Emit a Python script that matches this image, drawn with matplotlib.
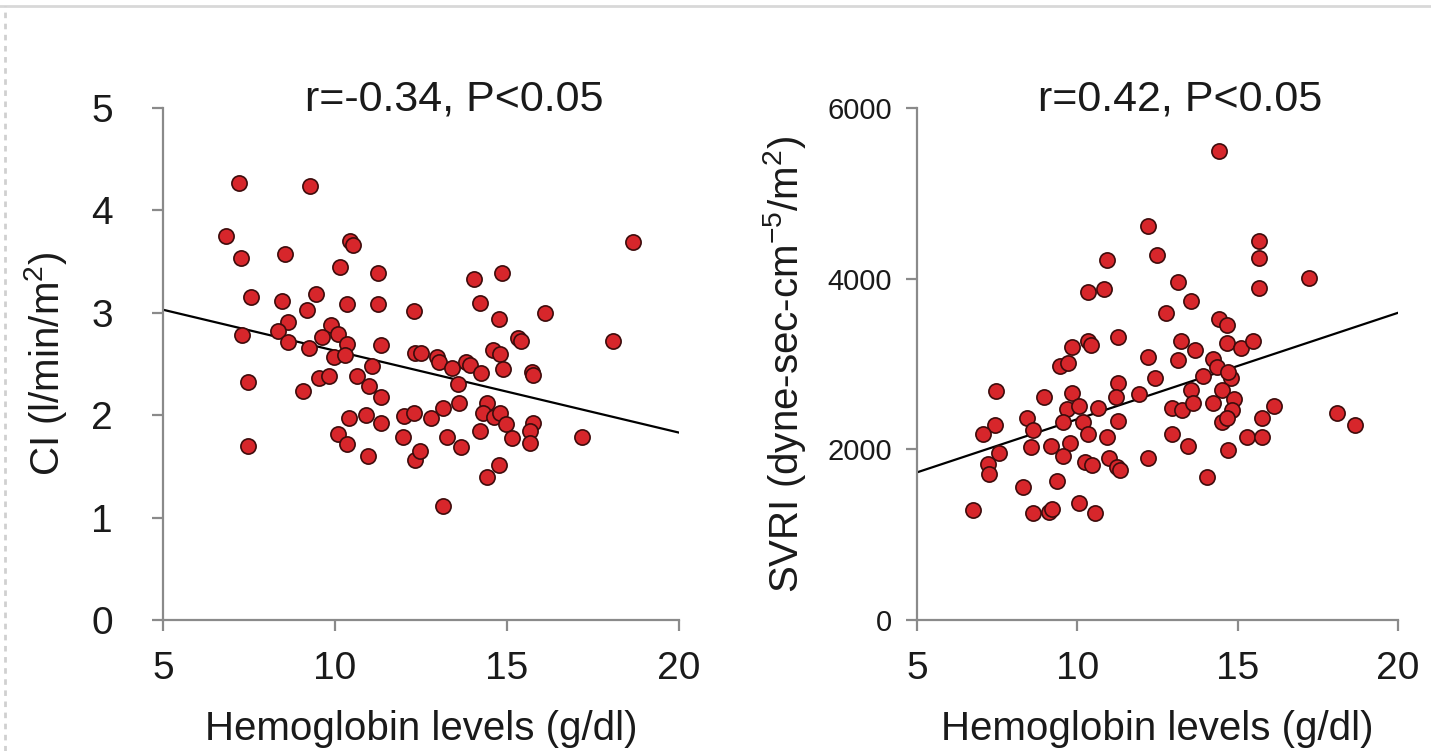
import numpy as np
import matplotlib
matplotlib.use("Agg")
import matplotlib.pyplot as plt
from matplotlib.lines import Line2D

plt.rcParams['font.family'] = ['Liberation Sans', 'DejaVu Sans']
plt.rcParams['mathtext.fontset'] = 'custom'
plt.rcParams['mathtext.rm'] = 'Liberation Sans'
plt.rcParams['mathtext.it'] = 'Liberation Sans'

# =========================================================
# DATA
# =========================================================

# left panel : CI vs hemoglobin
hb_ci = [7.21, 9.27, 6.83, 7.27, 8.55, 10.44, 10.52, 10.15, 11.25, 7.56,
         8.46, 9.45, 9.19, 10.35, 11.25, 12.30, 8.63, 9.88, 7.30, 8.34,
         9.62, 10.09, 8.63, 9.24, 10.35, 11.34, 9.97, 10.29, 11.08, 9.53,
         9.83, 10.64, 10.99, 11.34, 7.47, 9.07, 10.41, 10.90, 11.34, 12.01,
         12.30, 11.98, 10.09, 10.35, 10.96, 7.47, 12.33, 12.33, 18.66, 14.85,
         14.04, 14.22, 14.77, 16.10, 15.32, 15.41, 18.08, 12.50, 12.97, 13.02,
         13.40, 13.81, 13.92, 14.24, 14.59, 14.80, 14.88, 15.73, 15.76, 13.58,
         13.60, 14.42, 12.79, 13.14, 14.30, 14.62, 14.80, 14.97, 15.76, 15.67,
         15.67, 15.15, 14.22, 13.26, 13.66, 12.47, 14.77, 14.42, 13.14, 17.18]
ci = [4.27, 4.24, 3.75, 3.54, 3.57, 3.70, 3.66, 3.45, 3.39, 3.15,
      3.12, 3.18, 3.03, 3.09, 3.09, 3.02, 2.91, 2.88, 2.78, 2.82,
      2.76, 2.79, 2.71, 2.66, 2.70, 2.69, 2.57, 2.59, 2.48, 2.36,
      2.38, 2.38, 2.29, 2.18, 2.32, 2.24, 1.97, 2.00, 1.92, 1.99,
      2.02, 1.79, 1.82, 1.72, 1.60, 1.70, 1.56, 2.61, 3.69, 3.39,
      3.33, 3.10, 2.94, 3.00, 2.75, 2.72, 2.72, 2.61, 2.57, 2.52,
      2.46, 2.52, 2.49, 2.41, 2.64, 2.60, 2.45, 2.42, 2.39, 2.30,
      2.12, 2.12, 1.97, 2.07, 2.02, 1.98, 2.02, 1.91, 1.92, 1.85,
      1.73, 1.78, 1.85, 1.79, 1.69, 1.65, 1.51, 1.40, 1.11, 1.79]
ci_fit_x = [5, 20]
ci_fit_y = [3.03, 1.83]

# right panel : SVRI vs hemoglobin
hb_svri = [12.20, 12.48, 10.92, 10.33, 10.83, 11.27, 10.33, 10.43, 9.83, 9.46,
           9.71, 12.20, 7.46, 8.96, 9.83, 11.27, 11.21, 11.92, 12.42, 9.68,
           10.05, 8.43, 10.64, 7.43, 7.06, 8.62, 9.55, 10.18, 11.27, 10.33,
           10.92, 8.55, 9.18, 9.77, 9.55, 7.56, 10.24, 10.46, 10.99, 11.24,
           11.33, 7.21, 7.25, 12.20, 9.37, 8.31, 6.75, 8.62, 9.12, 9.21,
           10.05, 10.55, 14.42, 15.66, 15.66, 17.22, 15.66, 13.14, 13.54, 12.76,
           14.42, 14.67, 13.23, 13.67, 14.67, 15.10, 15.48, 13.14, 14.23, 14.35,
           13.92, 14.79, 14.70, 13.54, 14.51, 14.88, 12.95, 13.26, 13.61, 14.23,
           14.82, 14.51, 14.67, 16.13, 15.76, 12.95, 13.45, 15.29, 15.76, 14.70,
           14.04, 18.10, 18.66]
svri = [4612, 4282, 4224, 3847, 3882, 3318, 3271, 3224, 3200, 2976,
        3012, 3082, 2682, 2612, 2659, 2776, 2612, 2647, 2835, 2471,
        2506, 2365, 2482, 2282, 2176, 2224, 2318, 2318, 2329, 2176,
        2141, 2024, 2035, 2071, 1918, 1953, 1847, 1812, 1894, 1788,
        1753, 1824, 1706, 1894, 1624, 1553, 1294, 1259, 1271, 1306,
        1376, 1259, 5494, 4447, 4247, 4012, 3894, 3965, 3741, 3600,
        3529, 3459, 3271, 3165, 3247, 3188, 3271, 3047, 3059, 2965,
        2859, 2835, 2906, 2694, 2694, 2588, 2482, 2459, 2541, 2541,
        2459, 2318, 2365, 2506, 2365, 2176, 2035, 2141, 2141, 1988,
        1671, 2424, 2282]
svri_fit_x = [5, 20]
svri_fit_y = [1730, 3600]

x_ticks = [5, 10, 15, 20]
ci_ticks = [0, 1, 2, 3, 4, 5]
svri_ticks = [0, 2000, 4000, 6000]

# =========================================================
# PLOT
# =========================================================

W, H = 1431, 751
fig = plt.figure(figsize=(W / 100, H / 100), dpi=100)

pt_face = '#d7262b'
pt_edge = '#3d0c0c'
spine_col = '#8a8a8a'
txt_col = '#1a1a1a'


def style_axes(ax, label_pad_y):
    for s in ['top', 'right']:
        ax.spines[s].set_visible(False)
    for s in ['left', 'bottom']:
        ax.spines[s].set_color(spine_col)
        ax.spines[s].set_linewidth(1.6)
    ax.tick_params(axis='both', direction='out', length=8, width=1.6,
                   color=spine_col, labelsize=28, labelcolor=txt_col)
    ax.tick_params(axis='x', pad=14)
    ax.tick_params(axis='y', pad=label_pad_y)


# left panel
ax1 = fig.add_axes([163 / W, (H - 620) / H, 516 / W, 512 / H])
ax1.scatter(hb_ci, ci, s=120, c=pt_face, edgecolors=pt_edge, linewidths=1.2, zorder=3)
ax1.plot(ci_fit_x, ci_fit_y, color='black', lw=1.6, zorder=2)
ax1.set_xlim(5, 20)
ax1.set_ylim(0, 5)
ax1.set_xticks(x_ticks)
ax1.set_yticks(ci_ticks)
style_axes(ax1, 28)
ax1.set_xlabel("Hemoglobin levels (g/dl)", fontsize=29, color=txt_col, labelpad=17)
ax1.set_ylabel("CI (l/min/m$^2$)", fontsize=29, color=txt_col, labelpad=16)
ax1.text(0.564, 0.996, "r=-0.34, P<0.05", transform=ax1.transAxes,
         ha='center', va='baseline', fontsize=31, color=txt_col)

# right panel
ax2 = fig.add_axes([917 / W, (H - 620) / H, 481 / W, 512 / H])
ax2.scatter(hb_svri, svri, s=120, c=pt_face, edgecolors=pt_edge, linewidths=1.2, zorder=3)
ax2.plot(svri_fit_x, svri_fit_y, color='black', lw=1.6, zorder=2)
ax2.set_xlim(5, 20)
ax2.set_ylim(0, 6000)
ax2.set_xticks(x_ticks)
ax2.set_yticks(svri_ticks)
style_axes(ax2, 10)
for lab in ax2.get_yticklabels():
    lab.set_fontsize(21)
ax2.set_xlabel("Hemoglobin levels (g/dl)", fontsize=29, color=txt_col, labelpad=17)
ax2.set_ylabel("SVRI (dyne-sec-cm$^{-5}$/m$^2$)", fontsize=29, color=txt_col, labelpad=14)
ax2.text(0.547, 0.996, "r=0.42, P<0.05", transform=ax2.transAxes,
         ha='center', va='baseline', fontsize=31, color=txt_col)

# thin page frame seen around the figure
fig.add_artist(Line2D([0, 1], [1 - 6 / H, 1 - 6 / H], transform=fig.transFigure,
                      color='#d8d8d8', lw=2))
fig.add_artist(Line2D([5 / W, 5 / W], [0, 1 - 6 / H], transform=fig.transFigure,
                      color='#d0d0d0', lw=2, ls=(0, (2, 2))))

fig.savefig("out.png", dpi=100)
